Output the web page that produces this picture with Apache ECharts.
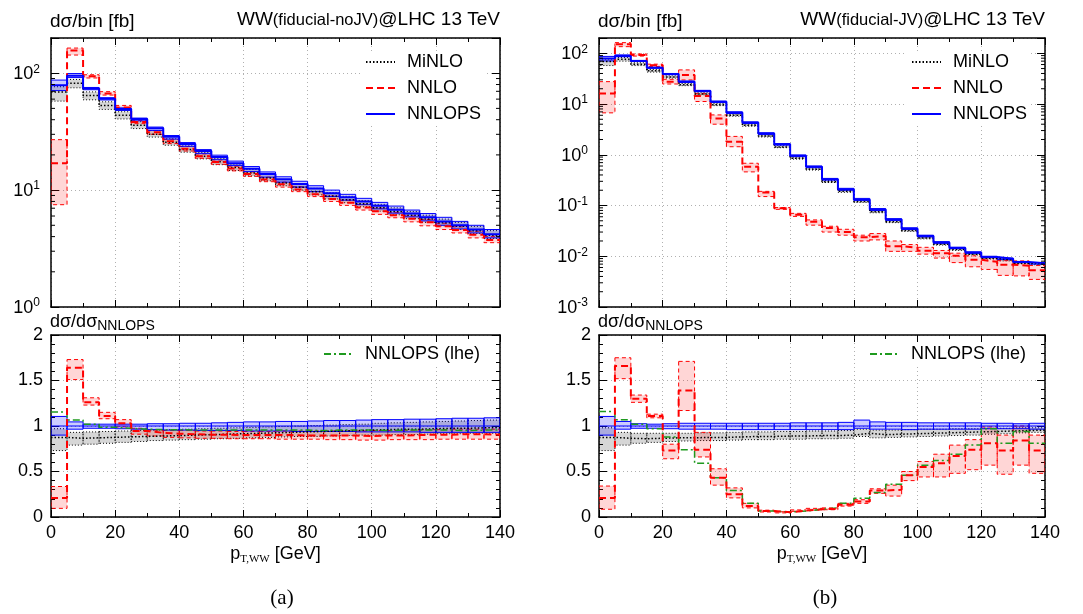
<!DOCTYPE html>
<html>
<head>
<meta charset="utf-8">
<title>WW pT</title>
<script src="https://cdn.jsdelivr.net/npm/echarts@6.0.0/dist/echarts.min.js"></script>
<style>
  html, body { margin: 0; padding: 0; background: #fff; }
  #chart { width: 1083px; height: 614px; }
</style>
</head>
<body>
<div id="chart"></div>
<script>
// bin edges of p_T,WW [GeV]
const binEdges = [0, 5, 10, 15, 20, 25, 30, 35, 40, 45, 50, 55, 60, 65, 70, 75, 80, 85, 90, 95, 100, 105, 110, 115, 120, 125, 130, 135, 140];

// (a) fiducial-noJV, dsigma/bin [fb]
const nnlopsA   = [79, 95, 74, 60.5, 49.5, 40.5, 33.8, 28.6, 24.8, 21.6, 19.2, 17.0, 15.2, 13.7, 12.4, 11.3, 10.3, 9.4, 8.7, 8.0, 7.35, 6.8, 6.3, 5.85, 5.4, 5.0, 4.6, 4.2];
const nnlopsLoA = [71, 91.7, 72.2, 59, 48, 39.1, 32.4, 27.3, 23.7, 20.5, 18.2, 16.2, 14.4, 12.9, 11.7, 10.6, 9.7, 8.8, 8.2, 7.5, 6.9, 6.35, 5.9, 5.45, 5.0, 4.65, 4.3, 3.9];
const nnlopsHiA = [87.3, 99.3, 75.5, 61.7, 50.5, 41.3, 34.6, 29.3, 25.5, 22.2, 19.9, 17.7, 15.9, 14.3, 13.0, 11.9, 10.9, 10.0, 9.2, 8.5, 7.85, 7.3, 6.75, 6.3, 5.85, 5.4, 5.0, 4.6];
const minloA    = [69, 82, 64.4, 52.9, 43.6, 35.8, 30.1, 25.6, 22.3, 19.5, 17.5, 15.6, 14.0, 12.7, 11.5, 10.6, 9.7, 8.9, 8.25, 7.65, 7.05, 6.55, 6.1, 5.65, 5.25, 4.9, 4.5, 4.1];
const minloLoA  = [57.7, 75, 59.2, 49, 40.6, 33.6, 28.4, 24.2, 21.1, 18.5, 16.5, 14.7, 13.2, 12.0, 10.9, 10.0, 9.1, 8.4, 7.8, 7.2, 6.6, 6.15, 5.7, 5.3, 4.95, 4.6, 4.25, 3.85];
const minloHiA  = [76.6, 88.4, 69.2, 56.9, 46.8, 38.5, 32.3, 27.5, 23.9, 21.0, 18.7, 16.7, 15.0, 13.6, 12.3, 11.3, 10.35, 9.5, 8.85, 8.15, 7.55, 7.05, 6.55, 6.1, 5.65, 5.3, 4.9, 4.5];
const nnloA     = [17, 156, 94, 67, 51, 38.3, 31.3, 26.2, 22.6, 19.5, 17.4, 15.3, 13.7, 12.3, 11.2, 10.1, 9.2, 8.4, 7.8, 7.1, 6.6, 6.1, 5.7, 5.3, 4.9, 4.55, 4.15, 3.75];
const nnloLoA   = [7.5, 143, 91, 65, 49, 37, 30, 25, 21.6, 18.7, 16.6, 14.6, 13.1, 11.8, 10.6, 9.7, 8.8, 8.0, 7.4, 6.75, 6.2, 5.8, 5.35, 4.95, 4.6, 4.3, 3.9, 3.55];
const nnloHiA   = [27, 164, 97, 69.5, 53, 39.5, 32.3, 27.2, 23.6, 20.4, 18.1, 16.0, 14.3, 12.9, 11.7, 10.7, 9.7, 8.9, 8.2, 7.55, 7.0, 6.45, 6.0, 5.6, 5.2, 4.85, 4.45, 4.0];

// (a) ratios to NNLOPS
const rNnlopsA   = [1, 1, 1, 1, 1, 1, 1, 1, 1, 1, 1, 1, 1, 1, 1, 1, 1, 1, 1, 1, 1, 1, 1, 1, 1, 1, 1, 1];
const rNnlopsLoA = [0.90, 0.965, 0.975, 0.975, 0.97, 0.965, 0.96, 0.955, 0.955, 0.95, 0.95, 0.95, 0.945, 0.945, 0.945, 0.94, 0.94, 0.94, 0.94, 0.935, 0.935, 0.935, 0.935, 0.93, 0.93, 0.93, 0.93, 0.93];
const rNnlopsHiA = [1.105, 1.045, 1.02, 1.02, 1.02, 1.02, 1.025, 1.025, 1.03, 1.03, 1.035, 1.04, 1.045, 1.045, 1.05, 1.05, 1.055, 1.06, 1.06, 1.065, 1.07, 1.07, 1.075, 1.075, 1.08, 1.085, 1.085, 1.09];
const rMinloA    = [0.875, 0.865, 0.87, 0.875, 0.88, 0.885, 0.89, 0.895, 0.90, 0.905, 0.91, 0.915, 0.92, 0.925, 0.93, 0.935, 0.94, 0.945, 0.95, 0.955, 0.96, 0.965, 0.965, 0.97, 0.975, 0.975, 0.98, 0.98];
const rMinloLoA  = [0.73, 0.79, 0.8, 0.81, 0.82, 0.83, 0.84, 0.845, 0.85, 0.855, 0.86, 0.865, 0.87, 0.875, 0.88, 0.885, 0.885, 0.89, 0.895, 0.9, 0.9, 0.905, 0.905, 0.91, 0.915, 0.915, 0.92, 0.92];
const rMinloHiA  = [0.97, 0.93, 0.935, 0.94, 0.945, 0.95, 0.955, 0.96, 0.965, 0.97, 0.975, 0.98, 0.985, 0.99, 0.995, 1.0, 1.005, 1.01, 1.015, 1.02, 1.03, 1.035, 1.04, 1.045, 1.05, 1.055, 1.06, 1.065];
const rNnloA     = [0.21, 1.64, 1.26, 1.11, 1.03, 0.945, 0.925, 0.915, 0.91, 0.905, 0.905, 0.90, 0.90, 0.90, 0.90, 0.895, 0.895, 0.895, 0.895, 0.89, 0.895, 0.895, 0.90, 0.905, 0.905, 0.91, 0.91, 0.905];
const rNnloLoA   = [0.095, 1.51, 1.23, 1.08, 0.99, 0.91, 0.89, 0.875, 0.87, 0.865, 0.865, 0.86, 0.86, 0.86, 0.855, 0.855, 0.855, 0.85, 0.85, 0.845, 0.845, 0.85, 0.85, 0.85, 0.855, 0.855, 0.855, 0.855];
const rNnloHiA   = [0.335, 1.73, 1.31, 1.15, 1.07, 0.975, 0.955, 0.95, 0.95, 0.945, 0.945, 0.94, 0.94, 0.94, 0.945, 0.945, 0.945, 0.945, 0.945, 0.945, 0.95, 0.95, 0.955, 0.96, 0.96, 0.965, 0.965, 0.965];
const rLheA      = [1.155, 1.065, 1.02, 0.985, 0.975, 0.965, 0.96, 0.96, 0.955, 0.955, 0.955, 0.955, 0.955, 0.955, 0.955, 0.955, 0.95, 0.955, 0.955, 0.955, 0.95, 0.955, 0.955, 0.955, 0.955, 0.95, 0.955, 0.955];

// (b) fiducial-JV, dsigma/bin [fb]
const nnlopsB   = [78.5, 88.6, 70.6, 52, 39, 27.6, 18.1, 11.1, 6.8, 4.3, 2.63, 1.61, 0.96, 0.58, 0.33, 0.21, 0.13, 0.083, 0.053, 0.035, 0.025, 0.0187, 0.0146, 0.0118, 0.0097, 0.0089, 0.0077, 0.0073];
const nnlopsLoB = [70.6, 85.5, 68.8, 50.7, 37.8, 26.6, 17.5, 10.7, 6.5, 4.13, 2.52, 1.55, 0.92, 0.557, 0.317, 0.2, 0.127, 0.08, 0.051, 0.0336, 0.024, 0.018, 0.0141, 0.0114, 0.0094, 0.0086, 0.0075, 0.007];
const nnlopsHiB = [86.7, 93, 72.4, 53, 40, 28.4, 18.6, 11.4, 7.0, 4.43, 2.71, 1.66, 0.99, 0.6, 0.342, 0.218, 0.138, 0.087, 0.055, 0.0364, 0.026, 0.0194, 0.0151, 0.0122, 0.01, 0.0092, 0.0079, 0.0075];
const minloB    = [68.7, 76.6, 60.7, 45, 33.9, 24, 15.8, 9.7, 6.0, 3.8, 2.33, 1.43, 0.855, 0.52, 0.295, 0.19, 0.12, 0.075, 0.048, 0.032, 0.023, 0.0173, 0.0136, 0.011, 0.0091, 0.0084, 0.0073, 0.0070];
const minloLoB  = [57.3, 70, 57.2, 42.6, 32.4, 23, 15.2, 9.3, 5.75, 3.65, 2.24, 1.38, 0.82, 0.5, 0.284, 0.182, 0.115, 0.072, 0.046, 0.031, 0.022, 0.0166, 0.0131, 0.0106, 0.0088, 0.0081, 0.0071, 0.0068];
const minloHiB  = [77, 82.4, 65, 47.8, 35.9, 25.4, 16.7, 10.3, 6.3, 4.0, 2.46, 1.51, 0.90, 0.55, 0.312, 0.2, 0.125, 0.079, 0.051, 0.0336, 0.024, 0.018, 0.0142, 0.0114, 0.0095, 0.0087, 0.0075, 0.0072];
const nnloB     = [16.2, 150, 93, 58, 27.6, 37.4, 14.4, 5.2, 1.8, 0.58, 0.18, 0.088, 0.066, 0.048, 0.036, 0.030, 0.0237, 0.025, 0.0158, 0.0146, 0.0128, 0.0114, 0.0102, 0.0085, 0.0078, 0.0068, 0.0065, 0.0053];
const nnloLoB   = [6.7, 135, 88, 55, 24.8, 29.8, 11.2, 4.0, 1.44, 0.46, 0.15, 0.084, 0.061, 0.041, 0.03, 0.026, 0.020, 0.021, 0.0125, 0.0125, 0.011, 0.0092, 0.0075, 0.0062, 0.0055, 0.0042, 0.0041, 0.0035];
const nnloHiB   = [27.6, 162, 97, 61, 30.7, 47, 16.2, 6.1, 2.3, 0.68, 0.19, 0.091, 0.07, 0.052, 0.039, 0.034, 0.026, 0.028, 0.02, 0.017, 0.015, 0.013, 0.0115, 0.0102, 0.0096, 0.0082, 0.0081, 0.0066];

// (b) ratios to NNLOPS
const rNnlopsB   = [1, 1, 1, 1, 1, 1, 1, 1, 1, 1, 1, 1, 1, 1, 1, 1, 1, 1, 1, 1, 1, 1, 1, 1, 1, 1, 1, 1];
const rNnlopsLoB = [0.90, 0.965, 0.975, 0.975, 0.97, 0.965, 0.965, 0.965, 0.96, 0.96, 0.96, 0.96, 0.96, 0.96, 0.96, 0.96, 0.975, 0.965, 0.965, 0.96, 0.965, 0.965, 0.965, 0.965, 0.97, 0.97, 0.97, 0.965];
const rNnlopsHiB = [1.105, 1.05, 1.025, 1.02, 1.025, 1.03, 1.03, 1.03, 1.03, 1.03, 1.03, 1.03, 1.035, 1.035, 1.035, 1.04, 1.065, 1.045, 1.04, 1.04, 1.035, 1.035, 1.035, 1.035, 1.03, 1.03, 1.025, 1.03];
const rMinloB    = [0.875, 0.865, 0.86, 0.865, 0.87, 0.87, 0.875, 0.875, 0.88, 0.885, 0.885, 0.89, 0.89, 0.895, 0.895, 0.90, 0.92, 0.905, 0.91, 0.915, 0.92, 0.925, 0.93, 0.935, 0.94, 0.945, 0.95, 0.955];
const rMinloLoB  = [0.73, 0.79, 0.81, 0.82, 0.83, 0.835, 0.84, 0.84, 0.845, 0.85, 0.85, 0.855, 0.855, 0.86, 0.86, 0.865, 0.885, 0.87, 0.875, 0.88, 0.885, 0.89, 0.895, 0.9, 0.91, 0.915, 0.925, 0.93];
const rMinloHiB  = [0.98, 0.93, 0.92, 0.92, 0.92, 0.92, 0.925, 0.925, 0.93, 0.935, 0.935, 0.94, 0.94, 0.945, 0.945, 0.95, 0.965, 0.955, 0.955, 0.96, 0.965, 0.965, 0.97, 0.97, 0.975, 0.975, 0.98, 0.98];
const rNnloB     = [0.21, 1.66, 1.30, 1.11, 0.73, 1.39, 0.74, 0.43, 0.25, 0.12, 0.065, 0.052, 0.07, 0.085, 0.09, 0.135, 0.17, 0.29, 0.30, 0.46, 0.55, 0.59, 0.67, 0.74, 0.81, 0.73, 0.84, 0.73];
const rNnloLoB   = [0.085, 1.52, 1.26, 1.09, 0.64, 1.17, 0.66, 0.35, 0.21, 0.10, 0.055, 0.045, 0.062, 0.075, 0.08, 0.12, 0.15, 0.26, 0.23, 0.40, 0.44, 0.44, 0.48, 0.52, 0.57, 0.47, 0.57, 0.48];
const rNnloHiB   = [0.34, 1.75, 1.34, 1.13, 0.80, 1.71, 0.93, 0.53, 0.32, 0.15, 0.075, 0.058, 0.078, 0.095, 0.10, 0.15, 0.19, 0.31, 0.35, 0.50, 0.61, 0.69, 0.79, 0.85, 0.99, 0.90, 1.0, 0.90];
const rLheB      = [1.16, 1.07, 1.02, 0.97, 0.88, 0.74, 0.59, 0.43, 0.29, 0.15, 0.065, 0.055, 0.065, 0.085, 0.10, 0.15, 0.205, 0.27, 0.36, 0.46, 0.57, 0.62, 0.69, 0.79, 0.97, 0.81, 0.94, 0.81];

// axis tick labels
const xTicks = [0, 20, 40, 60, 80, 100, 120, 140];
const ratioTicks = [0, 0.5, 1, 1.5, 2];

const FONT = '"Liberation Sans", Arial, Helvetica, sans-serif';
const SERIF = '"Liberation Serif", "DejaVu Serif", serif';
const RED = '#ff0000', BLUE = '#0000ff', GREEN = '#1f9a1f';

const chart = echarts.init(document.getElementById('chart'));

// histogram points for a step line
function stepPoints(vals) {
  const pts = vals.map((v, i) => [binEdges[i], v]);
  pts.push([binEdges[vals.length], vals[vals.length - 1]]);
  return pts;
}

function bandSeries(g, lo, hi, fill, stroke, dash) {
  return {
    type: 'custom', xAxisIndex: 2 * g, yAxisIndex: 2 * g, clip: true, z: 2, silent: true,
    data: lo.map((v, i) => [binEdges[i], binEdges[i + 1], v, hi[i]]),
    encode: { x: [0, 1], y: [2, 3] },
    renderItem: (params, api) => {
      const a = api.coord([api.value(0), api.value(3)]);
      const b = api.coord([api.value(1), api.value(2)]);
      return {
        type: 'rect',
        shape: { x: a[0], y: a[1], width: b[0] - a[0], height: b[1] - a[1] },
        style: { fill: fill, stroke: stroke, lineWidth: 1, lineDash: dash }
      };
    }
  };
}

function lineSeries(g, name, vals, color, width, type) {
  return {
    type: 'line', name: name, xAxisIndex: 2 * g, yAxisIndex: 2 * g,
    data: stepPoints(vals), step: 'end', symbol: 'none', showSymbol: false, z: 5, silent: true,
    lineStyle: { color: color, width: width, type: type },
    itemStyle: { color: color }
  };
}

// log minor ticks (2..9 per decade) on both vertical frame sides
function logMinorSeries(g, lowExp, max) {
  const vals = [];
  for (let e = lowExp; Math.pow(10, e) < max; e++) {
    for (let m = 2; m <= 9; m++) {
      const v = m * Math.pow(10, e);
      if (v < max) vals.push([70, v]);
    }
  }
  return {
    type: 'custom', xAxisIndex: 2 * g, yAxisIndex: 2 * g, z: 6, silent: true,
    data: vals, encode: { x: 0, y: 1 },
    renderItem: (params, api) => {
      const cs = params.coordSys;
      const y = api.coord([api.value(0), api.value(1)])[1];
      return {
        type: 'group', children: [
          { type: 'line', shape: { x1: cs.x, y1: y, x2: cs.x + 4, y2: y }, style: { stroke: '#000', lineWidth: 1 } },
          { type: 'line', shape: { x1: cs.x + cs.width - 4, y1: y, x2: cs.x + cs.width, y2: y }, style: { stroke: '#000', lineWidth: 1 } }
        ]
      };
    }
  };
}

const grids = [
  { left: 51, top: 38, width: 449, height: 269 },
  { left: 51, top: 335, width: 449, height: 182 },
  { left: 599, top: 38, width: 446, height: 269 },
  { left: 599, top: 335, width: 446, height: 182 }
];

const frameLine = { show: true, onZero: false, lineStyle: { color: '#000', width: 1.5 } };
const gridDots = { show: true, lineStyle: { color: '#b0b0b0', width: 1, type: [1, 3] } };

function xAxes(g, withLabels) {
  const base = {
    type: 'value', gridIndex: g, min: xTicks[0], max: xTicks[xTicks.length - 1], interval: xTicks[1] - xTicks[0],
    axisLine: frameLine,
    axisTick: { show: true, inside: true, length: 7, lineStyle: { color: '#000', width: 1 } },
    minorTick: { show: true, splitNumber: 2, length: 4, lineStyle: { color: '#000', width: 1 } }
  };
  const bottom = Object.assign({}, base, {
    position: 'bottom', splitLine: gridDots,
    axisLabel: { show: withLabels, color: '#000', fontSize: 18, fontFamily: FONT, margin: 7 }
  });
  if (withLabels) {
    Object.assign(bottom, {
      name: '{a|p}{s|T,WW}{a| [GeV]}', nameLocation: 'middle', nameGap: 28,
      nameTextStyle: {
        rich: {
          a: { fontSize: 18, fontFamily: FONT, color: '#000', lineHeight: 20, verticalAlign: 'top', padding: [0, 0, 5, 0] },
          s: { fontSize: 11, fontFamily: SERIF, color: '#000', lineHeight: 12, verticalAlign: 'bottom' }
        }
      }
    });
  }
  const top = Object.assign({}, base, { position: 'top', axisLabel: { show: false }, splitLine: { show: false } });
  return [bottom, top];
}

function logLabel(v) {
  const e = Math.log10(v);
  const r = Math.round(e);
  if (Math.abs(e - r) > 0.01) return '';
  return '{b|10}{e|' + r + '}';
}

function yAxesLog(g, min, max, splitNumber) {
  const base = {
    type: 'log', logBase: 10, gridIndex: g, min: min, max: max, splitNumber: splitNumber,
    axisLine: frameLine,
    axisTick: { show: true, inside: true, length: 8, lineStyle: { color: '#000', width: 1 } },
    minorTick: { show: false }
  };
  const left = Object.assign({}, base, {
    position: 'left', splitLine: gridDots,
    axisLabel: {
      show: true, margin: 11, formatter: logLabel,
      rich: {
        b: { fontSize: 18, fontFamily: FONT, color: '#000', lineHeight: 20, verticalAlign: 'bottom', padding: [1, 0, 0, 0] },
        e: { fontSize: 12, fontFamily: FONT, color: '#000', lineHeight: 12, verticalAlign: 'top' }
      }
    }
  });
  const right = Object.assign({}, base, { position: 'right', axisLabel: { show: false }, splitLine: { show: false } });
  return [left, right];
}

function yAxesRatio(g) {
  const base = {
    type: 'value', gridIndex: g, min: ratioTicks[0], max: ratioTicks[ratioTicks.length - 1], interval: ratioTicks[1] - ratioTicks[0],
    axisLine: frameLine,
    axisTick: { show: true, inside: true, length: 8, lineStyle: { color: '#000', width: 1 } },
    minorTick: { show: true, splitNumber: 5, length: 4, lineStyle: { color: '#000', width: 1 } }
  };
  const left = Object.assign({}, base, {
    position: 'left', splitLine: gridDots,
    axisLabel: { show: true, color: '#000', fontSize: 18, fontFamily: FONT, margin: 8 }
  });
  const right = Object.assign({}, base, { position: 'right', axisLabel: { show: false }, splitLine: { show: false } });
  return [left, right];
}

const GRAY_FILL = 'rgba(0,0,0,0.16)';
const RED_FILL = 'rgba(255,0,0,0.16)';
const BLUE_FILL = 'rgba(0,0,255,0.2)';

function topPanel(g, minlo, minloLo, minloHi, nnlo, nnloLo, nnloHi, nnlops, nnlopsLo, nnlopsHi) {
  return [
    bandSeries(g, minloLo, minloHi, GRAY_FILL, '#000', [1, 2]),
    bandSeries(g, nnloLo, nnloHi, RED_FILL, RED, [4, 3]),
    bandSeries(g, nnlopsLo, nnlopsHi, BLUE_FILL, BLUE, null),
    lineSeries(g, 'MiNLO', minlo, '#000', 1.5, [1.5, 2]),
    lineSeries(g, 'NNLO', nnlo, RED, 2, [7, 4]),
    lineSeries(g, 'NNLOPS', nnlops, BLUE, 2, 'solid')
  ];
}

function ratioPanel(g, rMinlo, rMinloLo, rMinloHi, rNnlo, rNnloLo, rNnloHi, rNnlops, rNnlopsLo, rNnlopsHi, rLhe) {
  return [
    bandSeries(g, rMinloLo, rMinloHi, GRAY_FILL, '#000', [1, 2]),
    bandSeries(g, rNnloLo, rNnloHi, RED_FILL, RED, [4, 3]),
    bandSeries(g, rNnlopsLo, rNnlopsHi, BLUE_FILL, BLUE, null),
    lineSeries(g, 'MiNLO', rMinlo, '#000', 1.5, [1.5, 2]),
    lineSeries(g, 'NNLOPS', rNnlops, BLUE, 1, 'solid'),
    lineSeries(g, 'NNLOPS (lhe)', rLhe, GREEN, 1.5, [7, 3, 2, 3]),
    lineSeries(g, 'NNLO', rNnlo, RED, 2, [7, 4])
  ];
}

const legendText = { fontSize: 18, fontFamily: FONT, color: '#000', padding: [0, 0, 0, 7] };

function mainLegend(left) {
  return {
    data: ['MiNLO', 'NNLO', 'NNLOPS'], orient: 'vertical', left: left, top: 51,
    itemWidth: 29, itemHeight: 14, itemGap: 8, padding: [2, 4, 2, 4],
    itemStyle: { opacity: 0 },
    backgroundColor: '#fff', textStyle: legendText, selectedMode: false
  };
}

function lheLegend(left, top) {
  return {
    data: ['NNLOPS (lhe)'], orient: 'vertical', left: left, top: top,
    itemWidth: 29, itemHeight: 14, padding: [2, 4, 2, 4],
    itemStyle: { opacity: 0 },
    backgroundColor: '#fff', textStyle: legendText, selectedMode: false
  };
}

const headRich = {
  a: { fontSize: 19, fontFamily: FONT, fontWeight: 'normal', color: '#000', lineHeight: 21, verticalAlign: 'bottom' },
  b: { fontSize: 16.5, fontFamily: FONT, fontWeight: 'normal', color: '#000', lineHeight: 18, verticalAlign: 'bottom' }
};
const ratioRich = {
  a: { fontSize: 18, fontFamily: FONT, fontWeight: 'normal', color: '#000', lineHeight: 20, verticalAlign: 'top', padding: [0, 0, 5, 0] },
  s: { fontSize: 14, fontFamily: FONT, fontWeight: 'normal', color: '#000', lineHeight: 15, verticalAlign: 'bottom' }
};

const option = {
  animation: false,
  backgroundColor: '#fff',
  title: [
    { text: 'dσ/bin [fb]', left: 50, top: 12, padding: 0, textStyle: { fontSize: 19, fontWeight: 'normal', fontFamily: FONT, color: '#000' } },
    { text: '{a|WW}{b|(fiducial-noJV)}{a|@LHC 13 TeV}', right: 1083 - 500, top: 8, padding: 0, textStyle: { fontWeight: 'normal', rich: headRich } },
    { text: 'dσ/bin [fb]', left: 598, top: 12, padding: 0, textStyle: { fontSize: 19, fontWeight: 'normal', fontFamily: FONT, color: '#000' } },
    { text: '{a|WW}{b|(fiducial-JV)}{a|@LHC 13 TeV}', right: 1083 - 1045, top: 8, padding: 0, textStyle: { fontWeight: 'normal', rich: headRich } },
    { text: '{a|dσ/dσ}{s|NNLOPS}', left: 50, top: 313, padding: 0, textStyle: { fontWeight: 'normal', rich: ratioRich } },
    { text: '{a|dσ/dσ}{s|NNLOPS}', left: 598, top: 313, padding: 0, textStyle: { fontWeight: 'normal', rich: ratioRich } },
    { text: '(a)', left: 282, top: 588, textAlign: 'center', padding: 0, textStyle: { fontSize: 21, fontWeight: 'normal', fontFamily: SERIF, color: '#000' } },
    { text: '(b)', left: 825, top: 588, textAlign: 'center', padding: 0, textStyle: { fontSize: 21, fontWeight: 'normal', fontFamily: SERIF, color: '#000' } }
  ],
  legend: [mainLegend(361), mainLegend(907), lheLegend(319, 343), lheLegend(865, 343)],
  grid: grids,
  xAxis: [].concat(xAxes(0, false), xAxes(1, true), xAxes(2, false), xAxes(3, true)),
  yAxis: [].concat(yAxesLog(0, 1, 200, 2), yAxesRatio(1), yAxesLog(2, 0.001, 200, 5), yAxesRatio(3)),
  series: [].concat(
    topPanel(0, minloA, minloLoA, minloHiA, nnloA, nnloLoA, nnloHiA, nnlopsA, nnlopsLoA, nnlopsHiA),
    [logMinorSeries(0, 0, 200)],
    ratioPanel(1, rMinloA, rMinloLoA, rMinloHiA, rNnloA, rNnloLoA, rNnloHiA, rNnlopsA, rNnlopsLoA, rNnlopsHiA, rLheA),
    topPanel(2, minloB, minloLoB, minloHiB, nnloB, nnloLoB, nnloHiB, nnlopsB, nnlopsLoB, nnlopsHiB),
    [logMinorSeries(2, -3, 200)],
    ratioPanel(3, rMinloB, rMinloLoB, rMinloHiB, rNnloB, rNnloLoB, rNnloHiB, rNnlopsB, rNnlopsLoB, rNnlopsHiB, rLheB)
  )
};

chart.setOption(option);
</script>
</body>
</html>
